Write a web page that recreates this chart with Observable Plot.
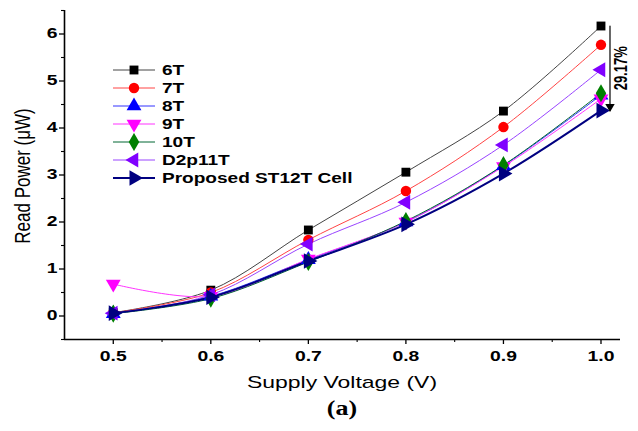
<!DOCTYPE html>
<html><head><meta charset="utf-8">
<script src="https://cdn.jsdelivr.net/npm/d3@7"></script>
<script src="https://cdn.jsdelivr.net/npm/@observablehq/plot@0.6"></script>
<style>
body{margin:0;background:#fff;font-family:"Liberation Sans",Arial,sans-serif;}
#wrap{position:relative;width:638px;height:431px;overflow:hidden;}
#legend{position:absolute;left:112px;top:61px;}
.row{display:flex;align-items:center;height:18px;font-weight:bold;font-size:14px;color:#000;}
.row svg{margin-right:4px;}
.row span{display:inline-block;transform:scaleX(1.36);transform-origin:left center;}
#xlab{position:absolute;left:342px;top:373px;width:0;}
#xlab span{position:absolute;white-space:nowrap;font-size:17px;transform:translateX(-50%) scaleX(1.35);}
#ylab{position:absolute;left:23px;top:176px;width:0;height:0;}
#ylab span{position:absolute;transform:translate(-50%,-50%) rotate(-90deg) scaleY(1.35);white-space:nowrap;font-size:17px;}
#cap{position:absolute;left:342px;top:397px;width:0;}
#cap span{position:absolute;white-space:nowrap;transform:translateX(-50%) scaleX(1.3);font-family:"Liberation Serif","Times New Roman",serif;font-weight:bold;font-size:20px;}
</style></head><body>
<div id="wrap"><div id="chart"></div><div id="legend"></div>
<div id="xlab"><span>Supply Voltage (V)</span></div>
<div id="ylab"><span>Read Power (μW)</span></div>
<div id="cap"><span>(a)</span></div></div>
<script>
const voltages = [0.5, 0.6, 0.7, 0.8, 0.9, 1.0];
const seriesNames = ["6T", "7T", "8T", "9T", "10T", "D2p11T", "Proposed ST12T Cell"];
const power6T    = [0.07, 0.55, 1.83, 3.06, 4.36, 6.17];
const power7T    = [0.07, 0.50, 1.62, 2.66, 4.02, 5.77];
const power8T    = [0.05, 0.42, 1.20, 2.00, 3.20, 4.70];
const power9T    = [0.68, 0.42, 1.21, 2.00, 3.18, 4.62];
const power10T   = [0.05, 0.37, 1.15, 2.02, 3.21, 4.74];
const powerD2p11T= [0.06, 0.45, 1.53, 2.42, 3.64, 5.24];
const powerST12T = [0.06, 0.40, 1.17, 1.95, 3.03, 4.37];
const allPowers = [power6T, power7T, power8T, power9T, power10T, powerD2p11T, powerST12T];
const yTicks = [0, 1, 2, 3, 4, 5, 6];
const xTicks = [0.5, 0.6, 0.7, 0.8, 0.9, 1.0];
const annotationText = "29.17%";

function tri(angle) {
  return {draw(c, size) {
    const R = Math.sqrt(size * 4 / (3 * Math.sqrt(3)));
    for (let i = 0; i < 3; i++) {
      const a = angle + i * 2 * Math.PI / 3;
      const px = R * Math.cos(a), py = R * Math.sin(a);
      if (i === 0) c.moveTo(px, py); else c.lineTo(px, py);
    }
    c.closePath();
  }};
}
const styles = [
  {line: "#444444", fill: "#000000", symbol: "square", w: 1, r: 5},
  {line: "#ff4444", fill: "#ff0000", symbol: "circle", w: 1, r: 5.2},
  {line: "#3333ff", fill: "#0000ff", symbol: tri(-Math.PI / 2), w: 1, r: 5.5},
  {line: "#ff33ff", fill: "#ff00ff", symbol: tri(Math.PI / 2), w: 1, r: 5.5},
  {line: "#006633", fill: "#008000", symbol: "diamond", w: 1, r: 5.5},
  {line: "#9944ff", fill: "#8000ff", symbol: tri(Math.PI), w: 1, r: 5.5},
  {line: "#000080", fill: "#000080", symbol: tri(0), w: 2, r: 5.8}
];

const data = seriesNames.map((name, i) => voltages.map((v, j) => ({v, p: allPowers[i][j], name})));

const marks = [];
data.forEach((d, i) => {
  const s = styles[i];
  marks.push(Plot.line(d, {x: "v", y: "p", stroke: s.line, strokeWidth: s.w, curve: "catmull-rom"}));
});
data.forEach((d, i) => {
  const s = styles[i];
  marks.push(Plot.dot(d, {x: "v", y: "p", fill: s.fill, stroke: "none", symbol: s.symbol, r: s.r}));
});
const topVal = power6T[power6T.length - 1], botVal = powerST12T[powerST12T.length - 1];
const lastV = voltages[voltages.length - 1];
marks.push(Plot.arrow([{x: lastV, y1: topVal, y2: botVal}], {x1: "x", x2: "x", y1: "y1", y2: "y2", dx: 9, stroke: "#000", strokeWidth: 1.2, headLength: 0}));
marks.push(Plot.dot([{x: lastV, y: botVal}], {x: "x", y: "y", dx: 9, dy: -4, symbol: tri(Math.PI / 2), r: 3.5, fill: "#000"}));
marks.push(Plot.text([{x: lastV, y: (topVal + botVal) / 2, t: annotationText}], {x: "x", y: "y", text: "t", dx: 20, fontWeight: "bold", fontSize: 13, fill: "#000", className: "anno"}));

const chart = Plot.plot({
  width: 638, height: 395,
  marginLeft: 64, marginRight: 18, marginTop: 10, marginBottom: 56,
  style: {fontFamily: "'Liberation Sans', Arial, sans-serif", background: "#fff", overflow: "visible"},
  x: {domain: [0.45, 1.02]},
  y: {domain: [-0.5, 6.5]},
  marks: [
    ...marks,
    Plot.axisY({ticks: yTicks, tickFormat: d => d, tickSize: 5, tickPadding: 2, fontSize: 14, fontWeight: "bold", label: null, strokeWidth: 1.3, fill: "#000"}),
    Plot.axisY({ticks: d3.range(-0.5, 6.6, 1), tickSize: 3, text: null, label: null, strokeWidth: 1.1}),
    Plot.axisX({ticks: xTicks, tickFormat: d3.format(".1f"), tickSize: 5, tickPadding: 7, fontSize: 14, fontWeight: "bold", label: null, strokeWidth: 1.3, fill: "#000"}),
    Plot.axisX({ticks: [0.55, 0.65, 0.75, 0.85, 0.95], tickSize: 3, text: null, label: null, strokeWidth: 1.1}),
    Plot.ruleX([0.45], {stroke: "#000", strokeWidth: 1.6}),
    Plot.ruleY([-0.5], {stroke: "#000", strokeWidth: 1.6})
  ]
});
// the reference figure is stretched horizontally; widen all text glyphs
chart.querySelectorAll("text").forEach(t => {
  let tr = t.getAttribute("transform");
  if (!tr) {
    const x = t.getAttribute("x") || 0, y = t.getAttribute("y") || 0;
    t.removeAttribute("x"); t.removeAttribute("y");
    tr = `translate(${x},${y})`;
  }
  const isAnno = !!t.closest(".anno");
  t.setAttribute("transform", tr + (isAnno ? " rotate(-90) scale(1,1.35)" : " scale(1.38,1)"));
});
document.getElementById("chart").appendChild(chart);

// legend
const leg = document.getElementById("legend");
seriesNames.forEach((name, i) => {
  const s = styles[i];
  const row = document.createElement("div");
  row.className = "row";
  const svg = d3.create("svg").attr("width", 46).attr("height", 18);
  svg.append("line").attr("x1", 1).attr("x2", 43).attr("y1", 9).attr("y2", 9).attr("stroke", s.line).attr("stroke-width", s.w);
  const sym = typeof s.symbol === "string" ? {square: d3.symbolSquare, circle: d3.symbolCircle, diamond: d3.symbolDiamond}[s.symbol] : s.symbol;
  svg.append("path").attr("transform", "translate(22,9)").attr("d", d3.symbol(sym, Math.PI * s.r * s.r)()).attr("fill", s.fill);
  row.appendChild(svg.node());
  const t = document.createElement("span");
  t.textContent = name;
  row.appendChild(t);
  leg.appendChild(row);
});
</script>
</body></html>
